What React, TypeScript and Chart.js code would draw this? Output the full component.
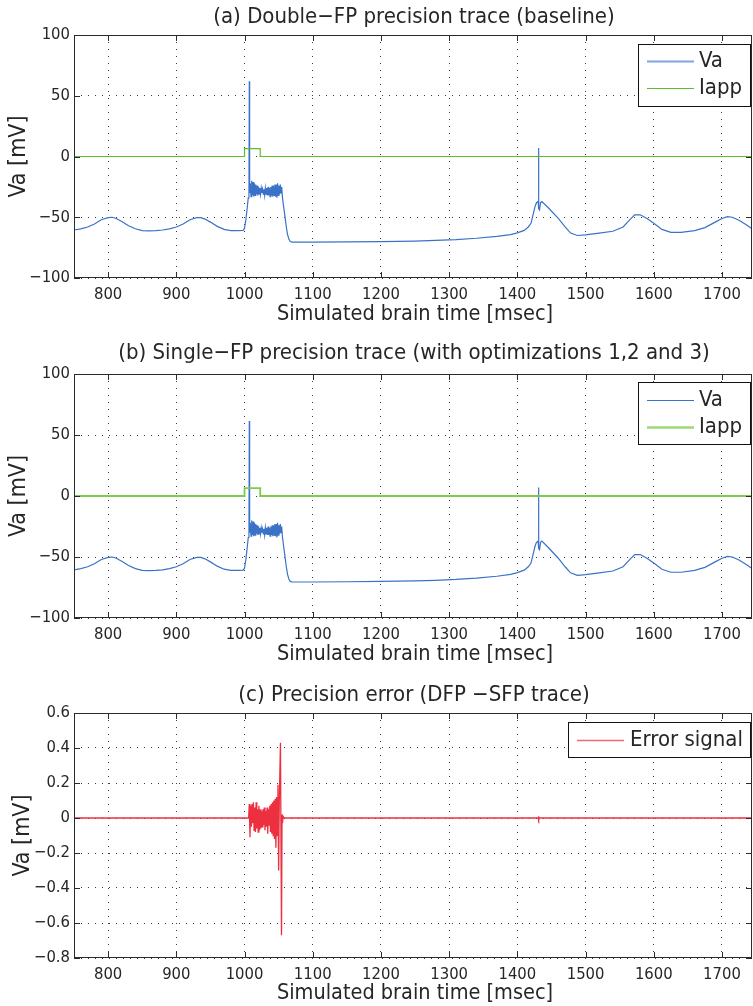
import React, { useEffect, useRef } from "react";
import { Chart, registerables } from "chart.js";
Chart.register(...registerables);

const FONT = "'DejaVu Sans Condensed', 'DejaVu Sans', sans-serif";
const TEXT = "#262626";

// ---- axes ----
const xTickValues = [800, 900, 1000, 1100, 1200, 1300, 1400, 1500, 1600, 1700];
const xMin = 750;
const xMax = 1744;
const vaTickValues = [-100, -50, 0, 50, 100];
const errTickValues = [-0.8, -0.6, -0.4, -0.2, 0, 0.2, 0.4, 0.6];

// ---- (a) double precision Va trace ----
const vaTime = [
  750, 760, 770, 780, 790, 800, 806, 812, 820, 830, 840, 850, 860, 870, 880, 890, 900, 910, 920, 930,
  936, 942, 950, 960, 970, 980, 990, 998, 1000, 1002, 1004, 1005.5, 1006.5, 1007, 1007.5,
  1008.5, 1009.5, 1010.5, 1011.5, 1012.5, 1013.5, 1014.5, 1015.5, 1016.5, 1017.5, 1018.5, 1019.5,
  1020.5, 1021.5, 1022.5, 1023.5, 1024.5, 1025.5, 1026.5, 1027.5, 1028.5, 1029.5, 1030.5, 1031.5,
  1032.5, 1033.5, 1034.5, 1035.5, 1036.5, 1037.5, 1038.5, 1039.5, 1040.5, 1041.5, 1042.5, 1043.5,
  1044.5, 1045.5, 1046.5, 1047.5, 1048.5, 1049.5, 1050.5, 1051.5, 1052.5, 1053.5, 1054.5, 1055.5,
  1057, 1059, 1061, 1063, 1065, 1067, 1070, 1100, 1150, 1200, 1250, 1280, 1310, 1340, 1370, 1390,
  1400, 1410, 1416, 1420, 1423, 1426, 1428, 1430.5, 1431, 1431.5, 1432.5, 1434, 1436, 1445, 1460, 1470,
  1478, 1488, 1500, 1520, 1540, 1555, 1565, 1572, 1580, 1590, 1600, 1612, 1625, 1640, 1660, 1675,
  1690, 1700, 1708, 1715, 1725, 1735, 1744,
];
const vaDouble = [
  -60.5, -59.5, -58, -55.5, -52, -50.3, -50, -51, -53.5, -57, -59.5, -61, -61.2, -61, -60.5, -59.5, -58, -55.5, -52, -50.3,
  -50.3, -51.5, -54, -57.5, -60, -61, -61, -60.8, -59, -52, -42, -34, -31, 62, -30,
  -22, -33, -20, -32, -21, -33, -22, -32, -23, -31, -24, -32,
  -25, -31, -26, -31, -26, -30, -27, -31, -27, -32, -26, -31,
  -26, -32, -25, -32, -26, -33, -25, -32, -24, -33, -24, -32,
  -23, -33, -23, -34, -22, -32, -24, -31, -23, -30, -25, -33,
  -40, -48, -57, -64, -68, -70, -70.5, -70.5, -70.3, -70, -69.6, -69.1, -68.4, -67.3, -65.8, -64.3,
  -62.8, -60.8, -58, -55, -48, -41, -38, -37, 7, -43, -44, -38, -37, -42, -51, -58,
  -63, -65, -64.5, -63, -61.5, -58, -52, -48, -48, -51, -55, -60, -62.5, -62.5, -61, -58.5,
  -54, -51, -49.5, -50, -52.5, -56, -59.5,
];

// ---- (b) single precision Va trace (same time base) ----
const vaSingle = [
  -60.5, -59.5, -58, -55.5, -52, -50.3, -50, -51, -53.5, -57, -59.5, -61, -61.2, -61, -60.5, -59.5, -58, -55.5, -52, -50.3,
  -50.3, -51.5, -54, -57.5, -60, -61, -61, -60.8, -59, -52, -42, -34, -31, 61.5, -30,
  -22, -33, -20, -32, -21, -33, -22, -32, -23, -31, -24, -32,
  -25, -31, -26, -31, -26, -30, -27, -31, -27, -32, -26, -31,
  -26, -32, -25, -32, -26, -33, -25, -32, -24, -33, -24, -32,
  -23, -33, -23, -34, -22, -32, -24, -31, -23, -30, -25, -33,
  -40, -48, -57, -64, -68, -70, -70.5, -70.5, -70.3, -70, -69.6, -69.1, -68.4, -67.3, -65.8, -64.3,
  -62.8, -60.8, -58, -55, -48, -41, -38, -37, 7, -43, -44, -38, -37, -42, -51, -58,
  -63, -65, -64.5, -63, -61.5, -58, -52, -48, -48, -51, -55, -60, -62.5, -62.5, -61, -58.5,
  -54, -51, -49.5, -50, -52.5, -56, -59.5,
];

// ---- applied current ----
const iappTime = [750, 1000, 1000, 1023, 1023, 1744];
const iappValues = [0, 0, 6.5, 6.5, 0, 0];

// ---- (c) error signal ----
const errTime = [
  750, 1006, 1007, 1008, 1009, 1010, 1011, 1012, 1013, 1014, 1015, 1016, 1017, 1018, 1019, 1020,
  1021, 1022, 1023, 1024, 1025, 1026, 1027, 1028, 1029, 1030, 1031, 1032, 1033, 1034, 1035, 1036,
  1037, 1038, 1039, 1040, 1041, 1042, 1043, 1044, 1045, 1046, 1047, 1048, 1049, 1050, 1051, 1052.7,
  1054.2, 1055, 1055.7, 1056.5, 1058, 1430.5, 1431, 1431.5, 1432, 1744,
];
const errValues = [
  0, 0, 0.08, -0.11, 0.07, -0.05, 0.08, -0.03, 0.09, -0.07, 0.06, -0.08, 0.09, -0.06, 0.05, -0.08,
  0.07, -0.07, 0.05, -0.06, 0.04, -0.05, 0.05, -0.04, 0.06, -0.07, 0.04, -0.05, 0.06, -0.09, 0.05, -0.04,
  0.07, -0.08, 0.08, -0.09, 0.09, -0.1, 0.1, -0.12, 0.11, -0.17, 0.12, -0.1, 0.19, -0.3, 0.1, 0.43,
  -0.67, 0.02, -0.03, 0.01, 0, 0, 0.01, -0.01, 0, 0,
];

const BLUE = "#3a72c8";
const GREEN = "#5cbd2a";
const RED = "#ec3040";

type LegendItem = { label: string; color: string; width: number };
type PanelSpec = {
  height: number;
  top: number;
  areaTop: number;
  areaBottom: number;
  title: string;
  titleY: number;
  xLabelY: number;
  yLabelX: number;
  yTicks: number[];
  yMin: number;
  yMax: number;
  datasets: { label: string; time: number[]; values: number[]; color: string; width: number }[];
  legend: { x: number; y: number; w: number; h: number; items: LegendItem[]; lineX0: number; lineX1: number; textX: number; rowY: number[] };
};

const fmt = (v: number) => String(v).replace("-", "\u2212");

function decor(spec: PanelSpec) {
  return {
    id: "decor",
    afterDraw(chart: any) {
      const { ctx, chartArea: a, scales } = chart;
      const xs = scales.x;
      const ys = scales.y;
      ctx.save();
      ctx.strokeStyle = "#2b2b2b";
      ctx.lineWidth = 1;
      ctx.setLineDash([]);
      ctx.strokeRect(a.left + 0.5, a.top + 0.5, a.right - a.left - 1, a.bottom - a.top - 1);
      ctx.beginPath();
      for (const t of xs.ticks) {
        const px = Math.round(xs.getPixelForValue(t.value)) + 0.5;
        ctx.moveTo(px, a.bottom);
        ctx.lineTo(px, a.bottom - 6);
        ctx.moveTo(px, a.top);
        ctx.lineTo(px, a.top + 6);
      }
      for (const t of ys.ticks) {
        const py = Math.round(ys.getPixelForValue(t.value)) + 0.5;
        ctx.moveTo(a.left, py);
        ctx.lineTo(a.left + 6, py);
        ctx.moveTo(a.right, py);
        ctx.lineTo(a.right - 6, py);
      }
      ctx.stroke();

      ctx.fillStyle = TEXT;
      ctx.textAlign = "center";
      ctx.textBaseline = "middle";
      const cx = (a.left + a.right) / 2;
      ctx.font = `22px ${FONT}`;
      ctx.fillText(spec.title, cx + 1, spec.titleY);
      ctx.font = `21.5px ${FONT}`;
      ctx.fillText("Simulated brain time [msec]", cx + 2, spec.xLabelY);
      ctx.save();
      ctx.font = `23px ${FONT}`;
      ctx.translate(spec.yLabelX, (a.top + a.bottom) / 2);
      ctx.rotate(-Math.PI / 2);
      ctx.fillText("Va [mV]", 0, 0);
      ctx.restore();

      const L = spec.legend;
      ctx.fillStyle = "#fff";
      ctx.fillRect(L.x, L.y, L.w, L.h);
      ctx.strokeStyle = "#111";
      ctx.strokeRect(L.x + 0.5, L.y + 0.5, L.w, L.h);
      ctx.font = `22px ${FONT}`;
      ctx.textAlign = "left";
      L.items.forEach((it, i) => {
        const ry = L.y + L.rowY[i];
        ctx.strokeStyle = it.color;
        ctx.lineWidth = it.width;
        ctx.beginPath();
        ctx.moveTo(L.lineX0, ry + 0.5);
        ctx.lineTo(L.lineX1, ry + 0.5);
        ctx.stroke();
        ctx.fillStyle = TEXT;
        ctx.fillText(it.label, L.textX, ry);
      });
      ctx.restore();
    },
  };
}

function Panel({ spec }: { spec: PanelSpec }) {
  const ref = useRef<HTMLCanvasElement | null>(null);
  useEffect(() => {
    if (!ref.current) return;
    const chart = new Chart(ref.current, {
      type: "line",
      data: {
        datasets: spec.datasets.map((d) => ({
          label: d.label,
          data: d.time.map((t, i) => ({ x: t, y: d.values[i] })),
          borderColor: d.color,
          borderWidth: d.width,
          pointRadius: 0,
          tension: 0,
          fill: false,
        })),
      },
      options: {
        animation: false,
        responsive: false,
        events: [],
        layout: { padding: { top: spec.areaTop, left: 0, right: 1, bottom: 0 } },
        plugins: { legend: { display: false }, title: { display: false }, tooltip: { enabled: false } },
        scales: {
          x: {
            type: "linear",
            min: xMin,
            max: xMax,
            afterBuildTicks: (s: any) => {
              s.ticks = xTickValues.map((v) => ({ value: v }));
            },
            afterFit: (s: any) => {
              s.height = spec.height - spec.areaBottom;
              s.paddingLeft = 0;
              s.paddingRight = 0;
            },
            ticks: {
              autoSkip: false,
              maxRotation: 0,
              padding: 7,
              color: TEXT,
              font: { family: FONT, size: 16.5 },
              callback: (v: any) => fmt(Number(v)),
            },
            grid: { color: "#3a3a3a", lineWidth: 1, drawTicks: false },
            border: { display: false, dash: [1, 6] },
          },
          y: {
            type: "linear",
            min: spec.yMin,
            max: spec.yMax,
            afterBuildTicks: (s: any) => {
              s.ticks = spec.yTicks.map((v) => ({ value: v }));
            },
            afterFit: (s: any) => {
              s.width = 74;
              s.paddingTop = 0;
              s.paddingBottom = 0;
            },
            ticks: {
              autoSkip: false,
              padding: 4,
              color: TEXT,
              font: { family: FONT, size: 16.5 },
              callback: (v: any) => fmt(Number(v)),
            },
            grid: { color: "#3a3a3a", lineWidth: 1, drawTicks: false },
            border: { display: false, dash: [1, 6] },
          },
        },
      },
      plugins: [decor(spec)],
    } as any);
    return () => chart.destroy();
  }, [spec]);
  return (
    <canvas
      ref={ref}
      width={753}
      height={spec.height}
      style={{ position: "absolute", left: 0, top: spec.top, width: 753, height: spec.height }}
    />
  );
}

const panels: PanelSpec[] = [
  {
    height: 330,
    top: 0,
    areaTop: 35,
    areaBottom: 278,
    title: "(a) Double\u2212FP precision trace (baseline)",
    titleY: 17,
    xLabelY: 314,
    yLabelX: 19,
    yTicks: vaTickValues,
    yMin: -100,
    yMax: 100,
    datasets: [
      { label: "Iapp", time: iappTime, values: iappValues, color: GREEN, width: 1.2 },
      { label: "Va", time: vaTime, values: vaDouble, color: BLUE, width: 1.2 },
    ],
    legend: {
      x: 638, y: 44, w: 112, h: 62,
      items: [
        { label: "Va", color: "#7fa6e0", width: 2 },
        { label: "Iapp", color: GREEN, width: 1.2 },
      ],
      lineX0: 647, lineX1: 694, textX: 699, rowY: [17, 44],
    },
  },
  {
    height: 340,
    top: 330,
    areaTop: 44,
    areaBottom: 288,
    title: "(b) Single\u2212FP precision trace (with optimizations 1,2 and 3)",
    titleY: 23,
    xLabelY: 324,
    yLabelX: 19,
    yTicks: vaTickValues,
    yMin: -100,
    yMax: 100,
    datasets: [
      { label: "Iapp", time: iappTime, values: iappValues, color: "#7ccb4c", width: 1.8 },
      { label: "Va", time: vaTime, values: vaSingle, color: BLUE, width: 1.2 },
    ],
    legend: {
      x: 638, y: 52, w: 112, h: 62,
      items: [
        { label: "Va", color: BLUE, width: 1.2 },
        { label: "Iapp", color: "#9bd97a", width: 2.5 },
      ],
      lineX0: 647, lineX1: 694, textX: 699, rowY: [18, 45],
    },
  },
  {
    height: 336,
    top: 670,
    areaTop: 43,
    areaBottom: 288,
    title: "(c) Precision error (DFP \u2212SFP trace)",
    titleY: 25,
    xLabelY: 323,
    yLabelX: 23,
    yTicks: errTickValues,
    yMin: -0.8,
    yMax: 0.6,
    datasets: [
      { label: "Error signal", time: errTime, values: errValues, color: RED, width: 1.3 },
    ],
    legend: {
      x: 568, y: 52, w: 182, h: 35,
      items: [{ label: "Error signal", color: "#ee6a76", width: 1.5 }],
      lineX0: 577, lineX1: 624, textX: 630, rowY: [18],
    },
  },
];

export default function App() {
  return (
    <div style={{ position: "absolute", left: 0, top: 0, width: 753, height: 1006, background: "#fff" }}>
      {panels.map((p, i) => (
        <Panel key={i} spec={p} />
      ))}
    </div>
  );
}
